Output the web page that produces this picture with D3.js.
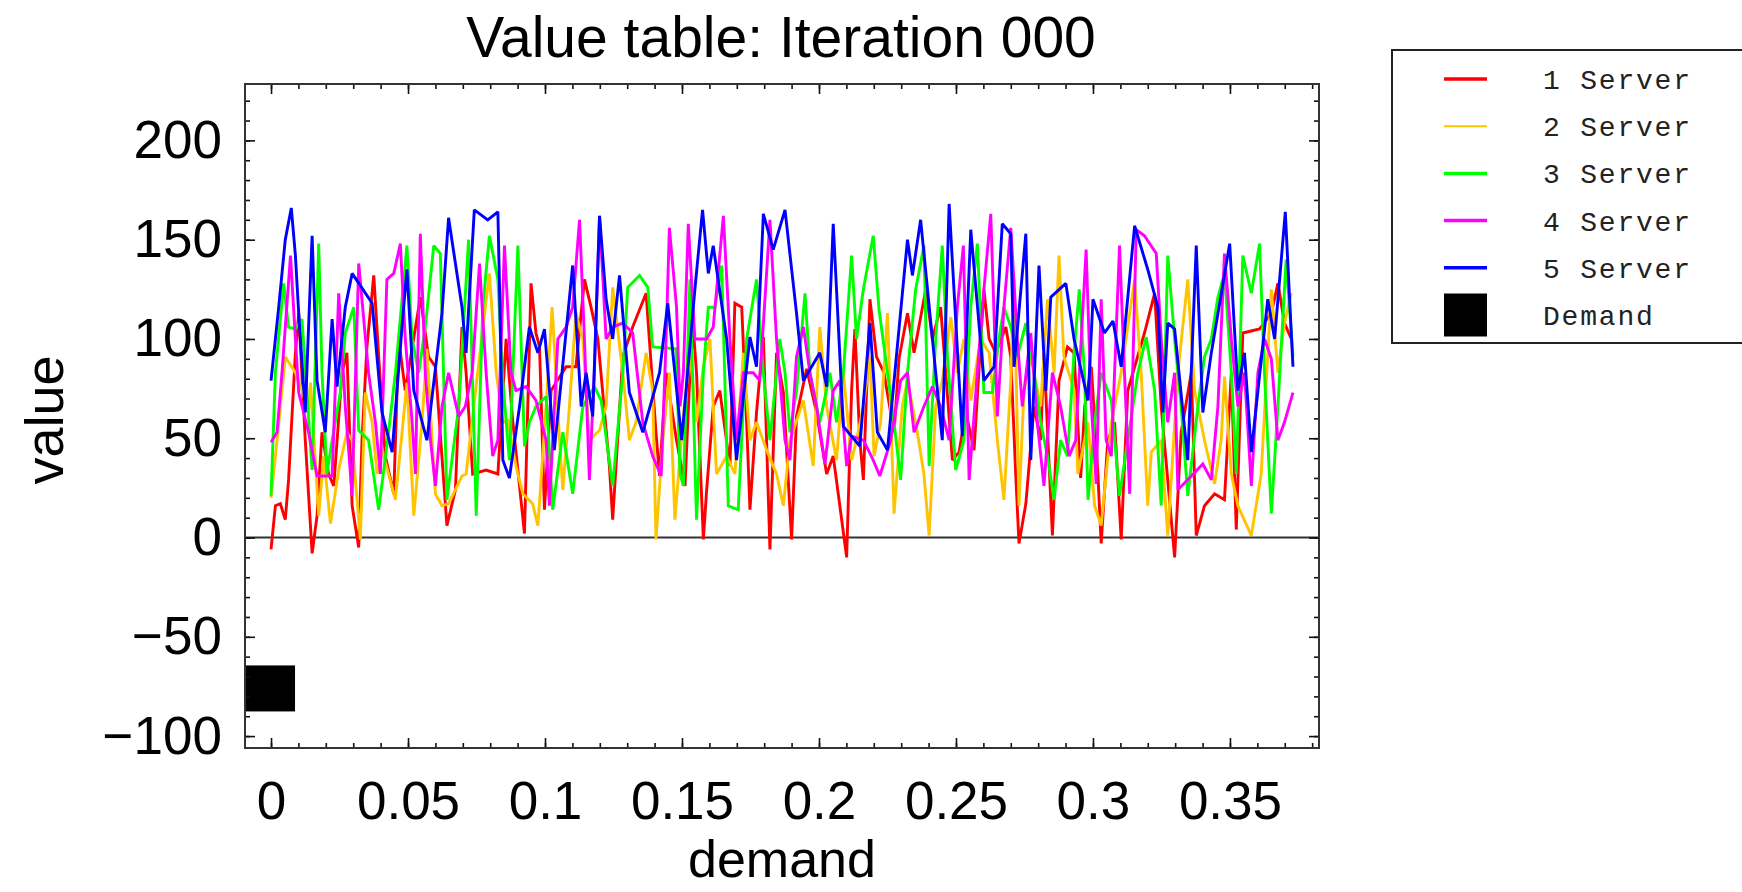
<!DOCTYPE html>
<html><head><meta charset="utf-8">
<script src="https://cdn.jsdelivr.net/npm/d3@7"></script>
<style>body{margin:0;background:#fff}svg{display:block}</style>
</head><body>
<svg id="c" width="1742" height="892"></svg>
<script>
// ---------- data ----------
const chartTitle = "Value table: Iteration 000";
const xLabel = "demand";
const yLabel = "value";
const seriesNames = ["1 Server", "2 Server", "3 Server", "4 Server", "5 Server"];
const demandName = "Demand";
const seriesColors = ["#ff0000", "#ffc400", "#00ff00", "#ff00ff", "#0000ff"];
const xDomain = [-0.0095, 0.3825];
const yDomain = [-106, 228.4];
const xMajorTicks = [0, 0.05, 0.1, 0.15, 0.2, 0.25, 0.3, 0.35];
const xTickLabels = ["0", "0.05", "0.1", "0.15", "0.2", "0.25", "0.3", "0.35"];
const xMinorTicks = d3.range(0, 39).map(i => i / 100);
const yMajorTicks = [-100, -50, 0, 50, 100, 150, 200];
const yMinorTicks = d3.range(-100, 221, 10);
const demandX = [0];
const demandY = [-76];

const server1 = [[0,-6],[0.0016,16],[0.0034,17],[0.0052,9],[0.0064,29],[0.0089,93],[0.0101,113],[0.0125,49],[0.015,-8],[0.0168,11],[0.0186,53],[0.021,32],[0.0229,26],[0.0259,83],[0.0277,93],[0.0296,16],[0.032,-5],[0.0332,49],[0.035,96],[0.0375,132],[0.0393,91],[0.0417,41],[0.0448,22],[0.0466,100],[0.049,74],[0.0545,121],[0.0575,91],[0.06,86],[0.0642,6],[0.0673,24],[0.0697,106],[0.0712,83],[0.0736,32],[0.0785,34],[0.0828,32],[0.0858,100],[0.0882,59],[0.0925,2],[0.0949,128],[0.0967,103],[0.098,96],[0.0998,14],[0.1022,74],[0.1077,86],[0.1113,86],[0.1144,130],[0.1168,116],[0.1193,100],[0.1235,36],[0.1247,9],[0.1284,91],[0.132,106],[0.1369,123],[0.1405,53],[0.1418,31],[0.1442,83],[0.148,49],[0.1511,26],[0.1529,83],[0.1541,106],[0.1553,83],[0.1578,-1],[0.159,24],[0.1614,66],[0.1638,74],[0.1675,36],[0.1693,118],[0.1718,116],[0.1736,58],[0.1748,14],[0.1772,63],[0.1797,101],[0.1821,-6],[0.1845,93],[0.187,73],[0.19,-1],[0.1918,61],[0.1955,85],[0.1991,63],[0.2028,32],[0.2052,41],[0.2101,-10],[0.2119,74],[0.2131,105],[0.2149,49],[0.2162,29],[0.2186,120],[0.221,91],[0.2237,83],[0.2274,53],[0.2292,90],[0.2323,113],[0.2347,93],[0.239,125],[0.2414,100],[0.2444,116],[0.2487,39],[0.2511,43],[0.2536,63],[0.2566,44],[0.2602,125],[0.2621,100],[0.2645,93],[0.2682,106],[0.27,91],[0.2718,32],[0.273,-3],[0.2755,17],[0.2785,66],[0.2809,49],[0.2821,93],[0.2852,1],[0.2876,79],[0.2907,96],[0.2931,93],[0.2955,30],[0.297,66],[0.2994,86],[0.3018,32],[0.303,-3],[0.3054,49],[0.3079,58],[0.3103,-1],[0.3127,74],[0.3188,103],[0.3225,123],[0.3249,66],[0.3298,-10],[0.3322,53],[0.3359,83],[0.3377,1],[0.3407,16],[0.3444,22],[0.348,19],[0.3505,83],[0.3523,4],[0.3547,103],[0.3608,105],[0.3651,113],[0.3675,128],[0.3699,108],[0.3724,100]];

const server2 = [[0,20],[0.0022,49],[0.0052,91],[0.0089,83],[0.0113,74],[0.0137,63],[0.0144,78],[0.0174,11],[0.0192,41],[0.0217,7],[0.0247,34],[0.0277,53],[0.0296,49],[0.0326,-1],[0.0344,73],[0.0369,58],[0.0387,32],[0.0405,44],[0.0429,32],[0.0454,19],[0.0496,78],[0.0521,11],[0.0551,58],[0.0569,95],[0.0588,49],[0.06,22],[0.0624,16],[0.0648,17],[0.0697,31],[0.0712,32],[0.0761,91],[0.0797,133],[0.0822,83],[0.0846,58],[0.0864,59],[0.0894,36],[0.0919,22],[0.0955,17],[0.0974,6],[0.1004,66],[0.1026,116],[0.1053,49],[0.1065,24],[0.1089,66],[0.1113,113],[0.1138,100],[0.1162,49],[0.1199,54],[0.1223,66],[0.1247,126],[0.1284,83],[0.1308,49],[0.1332,58],[0.1369,93],[0.1393,74],[0.1405,-1],[0.143,49],[0.1454,83],[0.1474,9],[0.1505,61],[0.1529,93],[0.1553,58],[0.1578,86],[0.1602,100],[0.1626,32],[0.1663,41],[0.1693,32],[0.1724,93],[0.1748,49],[0.1772,58],[0.1809,44],[0.1845,32],[0.187,16],[0.1894,49],[0.1943,69],[0.1979,36],[0.2003,106],[0.2028,66],[0.2064,39],[0.2089,83],[0.2119,39],[0.2137,49],[0.2162,66],[0.2186,91],[0.2201,41],[0.2225,58],[0.225,113],[0.2274,12],[0.2304,66],[0.2323,79],[0.2359,53],[0.2383,32],[0.2402,1],[0.2426,66],[0.245,79],[0.2481,111],[0.2505,83],[0.2529,100],[0.2554,69],[0.259,100],[0.2621,93],[0.2651,49],[0.2675,19],[0.27,79],[0.2712,130],[0.273,16],[0.2748,74],[0.2773,91],[0.2809,66],[0.2834,120],[0.2858,83],[0.2876,142],[0.2894,91],[0.2931,74],[0.2945,32],[0.2982,58],[0.3006,16],[0.303,6],[0.3067,58],[0.3103,83],[0.3152,130],[0.3176,83],[0.32,16],[0.3213,43],[0.3249,49],[0.3273,1],[0.331,83],[0.3346,130],[0.3371,74],[0.3407,49],[0.3444,27],[0.3468,49],[0.348,81],[0.3505,32],[0.3529,16],[0.3578,1],[0.3614,32],[0.3651,125],[0.3675,83],[0.3699,108],[0.3724,123]];

const server3 = [[0,21],[0.0016,83],[0.0046,128],[0.0064,106],[0.0089,105],[0.0113,110],[0.015,34],[0.0174,148],[0.0186,83],[0.0204,32],[0.0223,49],[0.0253,73],[0.0271,103],[0.0302,116],[0.032,54],[0.0356,49],[0.0393,14],[0.0429,53],[0.0454,83],[0.0496,147],[0.0515,100],[0.0539,83],[0.0563,106],[0.0594,147],[0.0618,143],[0.0642,19],[0.0685,66],[0.0721,150],[0.0749,11],[0.0773,116],[0.0797,152],[0.0828,130],[0.0846,79],[0.087,39],[0.0901,147],[0.0925,46],[0.0943,58],[0.0967,66],[0.1004,71],[0.1028,14],[0.1065,53],[0.1101,22],[0.1138,66],[0.118,76],[0.1205,69],[0.1247,26],[0.1284,83],[0.1302,126],[0.1345,132],[0.1375,126],[0.1393,96],[0.1478,95],[0.1493,32],[0.1505,26],[0.1529,130],[0.1553,9],[0.1578,83],[0.1596,116],[0.162,116],[0.1645,137],[0.1669,16],[0.1705,14],[0.1736,100],[0.1772,130],[0.1797,83],[0.1821,49],[0.1857,100],[0.1876,83],[0.1894,53],[0.1918,74],[0.1949,123],[0.1967,83],[0.2003,58],[0.204,83],[0.2064,58],[0.2089,83],[0.2119,142],[0.2137,100],[0.2162,125],[0.2198,152],[0.2219,115],[0.225,83],[0.2274,58],[0.2298,29],[0.2323,83],[0.2353,125],[0.2383,147],[0.2402,36],[0.2426,100],[0.245,147],[0.2469,91],[0.2499,34],[0.2529,49],[0.2554,116],[0.2578,148],[0.2602,73],[0.2633,73],[0.2657,100],[0.2675,116],[0.27,106],[0.2724,91],[0.2755,108],[0.2785,83],[0.2809,58],[0.2834,41],[0.2858,19],[0.2882,49],[0.2907,41],[0.2931,93],[0.295,125],[0.2969,83],[0.2982,19],[0.3006,58],[0.303,83],[0.3067,69],[0.3097,21],[0.3127,49],[0.3164,83],[0.3194,101],[0.3225,74],[0.3249,16],[0.3273,142],[0.3298,100],[0.3322,66],[0.3346,21],[0.3383,66],[0.3407,91],[0.3432,100],[0.3456,121],[0.348,133],[0.3505,83],[0.3523,32],[0.3547,142],[0.3578,123],[0.3608,148],[0.3626,83],[0.3651,12],[0.3675,66],[0.3705,140],[0.373,91]];

const server4 = [[0,48],[0.0022,53],[0.004,83],[0.0071,142],[0.0089,100],[0.0101,73],[0.0137,53],[0.0168,31],[0.0223,31],[0.0247,123],[0.0271,66],[0.0296,21],[0.032,138],[0.0356,83],[0.0381,58],[0.0399,32],[0.0423,130],[0.0448,133],[0.0472,148],[0.049,100],[0.0515,58],[0.0527,32],[0.0545,153],[0.0563,83],[0.0582,49],[0.06,26],[0.0624,66],[0.0648,83],[0.0685,61],[0.0709,66],[0.0734,83],[0.0761,138],[0.0785,83],[0.0809,41],[0.0828,49],[0.0852,147],[0.0876,83],[0.0894,74],[0.0931,76],[0.0967,69],[0.1004,49],[0.1016,16],[0.1047,100],[0.1077,106],[0.1101,116],[0.1126,160],[0.1144,100],[0.1162,29],[0.118,83],[0.1199,162],[0.1223,100],[0.1247,106],[0.1284,108],[0.132,103],[0.1357,58],[0.1393,41],[0.1424,31],[0.1442,100],[0.1454,156],[0.148,116],[0.1493,66],[0.1505,83],[0.1523,158],[0.1547,100],[0.159,100],[0.1614,106],[0.1651,162],[0.1675,100],[0.1699,49],[0.1724,83],[0.176,83],[0.1784,79],[0.1821,160],[0.1845,100],[0.1876,49],[0.1894,39],[0.1918,91],[0.1943,106],[0.1967,83],[0.1991,66],[0.2022,37],[0.2052,74],[0.2076,79],[0.2101,36],[0.2119,51],[0.2162,49],[0.2198,39],[0.2222,31],[0.2262,49],[0.2298,79],[0.2323,83],[0.2347,53],[0.2383,66],[0.2414,76],[0.2444,66],[0.2475,49],[0.2505,116],[0.2527,147],[0.2548,29],[0.2578,83],[0.2602,125],[0.2627,163],[0.2651,61],[0.2675,116],[0.27,156],[0.2724,100],[0.2742,66],[0.2773,103],[0.2797,58],[0.2821,26],[0.2852,83],[0.2882,66],[0.2913,41],[0.2937,49],[0.2975,145],[0.2994,66],[0.3012,27],[0.303,120],[0.3048,49],[0.3067,41],[0.3097,147],[0.3115,83],[0.3134,22],[0.3158,155],[0.3188,152],[0.3231,143],[0.3249,100],[0.3273,58],[0.3298,83],[0.331,24],[0.3359,31],[0.3401,37],[0.3432,29],[0.3456,66],[0.348,143],[0.3505,100],[0.3529,66],[0.3553,83],[0.3578,26],[0.3602,83],[0.3626,100],[0.3651,90],[0.3675,49],[0.3699,58],[0.373,73]];

const server5 = [[0,79],[0.0028,116],[0.0052,150],[0.0074,166],[0.0089,142],[0.0101,113],[0.0125,63],[0.015,152],[0.0168,79],[0.0198,53],[0.0223,110],[0.0241,76],[0.0271,116],[0.0296,133],[0.0369,118],[0.0405,63],[0.0442,43],[0.0478,106],[0.0496,135],[0.0521,74],[0.0569,49],[0.0624,113],[0.0648,161],[0.0697,116],[0.0712,93],[0.0742,165],[0.0791,160],[0.0828,164],[0.0834,126],[0.0846,39],[0.087,30],[0.0907,66],[0.0943,106],[0.0974,93],[0.0998,105],[0.1034,44],[0.1101,137],[0.1132,66],[0.115,83],[0.1174,61],[0.1199,162],[0.1223,120],[0.1247,100],[0.1272,132],[0.1308,73],[0.1357,53],[0.1418,83],[0.1448,118],[0.1499,49],[0.1547,125],[0.1575,165],[0.1596,133],[0.1614,147],[0.1663,100],[0.1699,39],[0.1748,101],[0.1772,86],[0.1797,163],[0.1833,145],[0.1876,165],[0.1918,113],[0.1943,79],[0.2003,93],[0.2028,76],[0.2052,158],[0.2089,56],[0.2149,46],[0.2186,108],[0.2213,53],[0.225,44],[0.2323,150],[0.2341,132],[0.2371,160],[0.2414,100],[0.245,49],[0.2475,168],[0.2523,51],[0.2554,155],[0.2602,79],[0.2639,86],[0.2669,158],[0.27,153],[0.2712,86],[0.2755,153],[0.2773,39],[0.2803,137],[0.2828,74],[0.2846,121],[0.2901,128],[0.2931,100],[0.2982,69],[0.3,120],[0.3042,103],[0.3073,109],[0.3103,86],[0.3152,157],[0.32,135],[0.3237,116],[0.3255,63],[0.3273,108],[0.3298,105],[0.3346,39],[0.3377,147],[0.3401,63],[0.3432,93],[0.3499,148],[0.3529,74],[0.3553,93],[0.3578,43],[0.3638,120],[0.3663,100],[0.3702,164],[0.373,86]];

const allSeries = [server1, server2, server3, server4, server5];

// ---------- drawing ----------
const svg = d3.select("#c");
const plot = {left: 245, right: 1319, top: 84, bottom: 748};
const x = d3.scaleLinear().domain(xDomain).range([plot.left, plot.right]);
const y = d3.scaleLinear().domain(yDomain).range([plot.bottom, plot.top]);
const sansFont = "'Liberation Sans', Arial, Helvetica, sans-serif";
const monoFont = "'Liberation Mono', 'Courier New', monospace";

svg.append("rect").attr("width", 1742).attr("height", 892).attr("fill", "#fff");

svg.append("defs").append("clipPath").attr("id", "plotclip")
  .append("rect").attr("x", plot.left).attr("y", plot.top)
  .attr("width", plot.right - plot.left).attr("height", plot.bottom - plot.top);

// zero line
svg.append("line")
  .attr("x1", plot.left).attr("x2", plot.right)
  .attr("y1", y(0)).attr("y2", y(0))
  .attr("stroke", "#333").attr("stroke-width", 2);

// demand marker
svg.append("g").attr("clip-path", "url(#plotclip)")
  .selectAll("rect").data(demandX.map((d, i) => [d, demandY[i]])).join("rect")
  .attr("x", d => x(d[0]) - 25).attr("y", d => y(d[1]) - 23)
  .attr("width", 49).attr("height", 46).attr("fill", "#000");

// series lines
const line = d3.line().x(d => x(d[0])).y(d => y(d[1]));
svg.append("g").attr("clip-path", "url(#plotclip)")
  .selectAll("path").data(allSeries).join("path")
  .attr("d", line)
  .attr("fill", "none")
  .attr("stroke", (d, i) => seriesColors[i])
  .attr("stroke-width", 2.9)
  .attr("stroke-linejoin", "miter")
  .attr("stroke-miterlimit", 2);

// axes (inward ticks)
function styleAxis(g) {
  g.select(".domain").remove();
  g.selectAll(".tick line").attr("stroke", "#111").attr("stroke-width", 1.6);
  g.selectAll("text").attr("font-family", sansFont).attr("font-size", 53).attr("fill", "#000");
}
svg.append("g").attr("transform", `translate(0,${plot.bottom})`)
  .call(d3.axisBottom(x).tickValues(xMinorTicks).tickSize(-5).tickFormat("")).call(styleAxis);
svg.append("g").attr("transform", `translate(0,${plot.bottom})`)
  .call(d3.axisBottom(x).tickValues(xMajorTicks).tickSize(-10).tickPadding(33)
    .tickFormat((d, i) => xTickLabels[i])).call(styleAxis);
svg.append("g").attr("transform", `translate(0,${plot.top})`)
  .call(d3.axisTop(x).tickValues(xMinorTicks).tickSize(-5).tickFormat("")).call(styleAxis);
svg.append("g").attr("transform", `translate(0,${plot.top})`)
  .call(d3.axisTop(x).tickValues(xMajorTicks).tickSize(-10).tickFormat("")).call(styleAxis);

svg.append("g").attr("transform", `translate(${plot.left},0)`)
  .call(d3.axisLeft(y).tickValues(yMinorTicks).tickSize(-5).tickFormat("")).call(styleAxis);
svg.append("g").attr("transform", `translate(${plot.left},0)`)
  .call(d3.axisLeft(y).tickValues(yMajorTicks).tickSize(-10).tickPadding(23)).call(styleAxis);
svg.append("g").attr("transform", `translate(${plot.right},0)`)
  .call(d3.axisRight(y).tickValues(yMinorTicks).tickSize(-5).tickFormat("")).call(styleAxis);
svg.append("g").attr("transform", `translate(${plot.right},0)`)
  .call(d3.axisRight(y).tickValues(yMajorTicks).tickSize(-10).tickFormat("")).call(styleAxis);

// frame
svg.append("rect")
  .attr("x", plot.left).attr("y", plot.top)
  .attr("width", plot.right - plot.left).attr("height", plot.bottom - plot.top)
  .attr("fill", "none").attr("stroke", "#333").attr("stroke-width", 2);

// title & axis labels
svg.append("text").attr("x", 781).attr("y", 57).attr("text-anchor", "middle")
  .attr("font-family", sansFont).attr("font-size", 57).text(chartTitle);
svg.append("text").attr("x", (plot.left + plot.right) / 2).attr("y", 877).attr("text-anchor", "middle")
  .attr("font-family", sansFont).attr("font-size", 52).text(xLabel);
svg.append("text").attr("transform", `translate(63,${(plot.top + plot.bottom) / 2 + 4}) rotate(-90)`)
  .attr("text-anchor", "middle")
  .attr("font-family", sansFont).attr("font-size", 54).text(yLabel);

// legend
const lg = svg.append("g");
lg.append("rect").attr("x", 1392).attr("y", 50).attr("width", 370).attr("height", 293)
  .attr("fill", "#fff").attr("stroke", "#222").attr("stroke-width", 2);
const rowY = i => 79 + i * 47.2;
lg.selectAll("line.sw").data(seriesNames).join("line")
  .attr("class", "sw")
  .attr("x1", 1444).attr("x2", 1487)
  .attr("y1", (d, i) => rowY(i)).attr("y2", (d, i) => rowY(i))
  .attr("stroke", (d, i) => seriesColors[i])
  .attr("stroke-width", (d, i) => i === 1 ? 2 : 3.5);
lg.append("rect").attr("x", 1444).attr("y", rowY(5) - 21.5).attr("width", 43).attr("height", 43).attr("fill", "#000");
lg.selectAll("text").data(seriesNames.concat([demandName])).join("text")
  .attr("x", 1543).attr("y", (d, i) => rowY(i) + 10)
  .attr("font-family", monoFont).attr("font-size", 28).attr("letter-spacing", 1.8)
  .attr("fill", "#222").attr("xml:space", "preserve").style("white-space", "pre")
  .text(d => d);
</script>
</body></html>
